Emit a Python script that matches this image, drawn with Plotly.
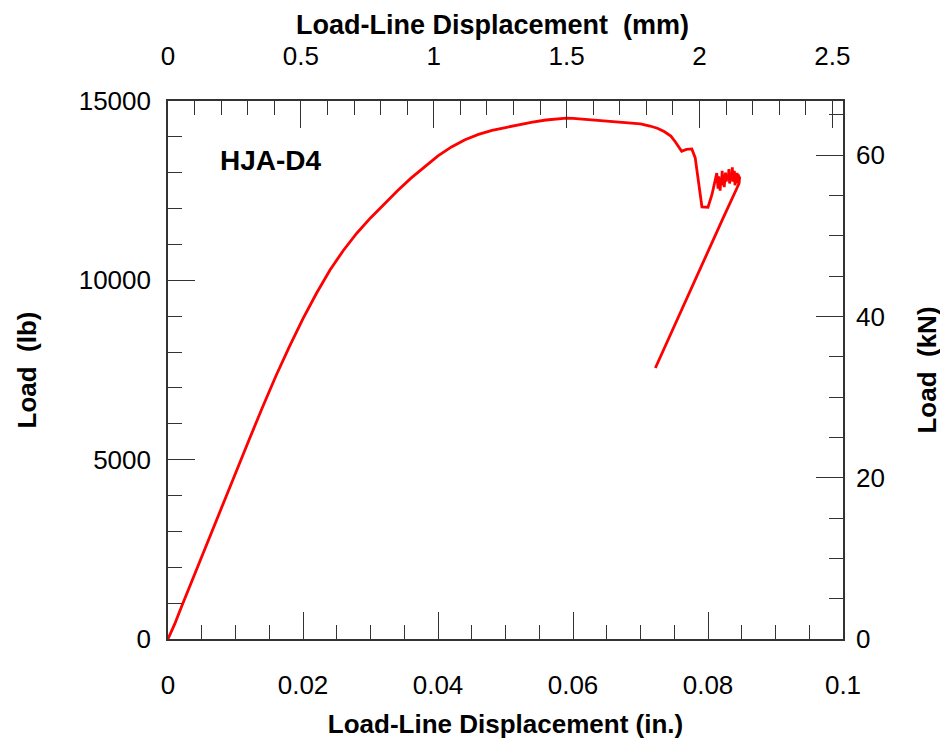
import plotly.graph_objects as go

# Load-line displacement (in.) and load (lb)
disp_in = [0.0, 0.001, 0.002, 0.004, 0.006, 0.008, 0.010, 0.012, 0.014, 0.016,
           0.018, 0.020, 0.022, 0.024, 0.026, 0.028, 0.030, 0.032, 0.034, 0.036,
           0.038, 0.040, 0.042, 0.044, 0.046, 0.048, 0.050, 0.052, 0.054, 0.056,
           0.058, 0.059, 0.060, 0.062, 0.064, 0.066, 0.068, 0.070, 0.0714, 0.0725,
           0.0735, 0.0745, 0.0752, 0.0761, 0.0768, 0.0776, 0.0781, 0.0786, 0.0791, 0.0800,
           0.0806, 0.0813, 0.0815, 0.0816, 0.0818, 0.0819, 0.0820, 0.0821, 0.0822, 0.0823,
           0.0824, 0.0826, 0.0827, 0.0828, 0.0830, 0.0831, 0.0832, 0.0834, 0.0835, 0.0836,
           0.0837, 0.0839, 0.0840, 0.0841, 0.0842, 0.0843, 0.0844, 0.0845, 0.0846, 0.0847,
           0.0846, 0.0822, 0.0722]
load_lb = [0, 420, 900, 1840, 2770, 3700, 4620, 5550, 6460, 7340,
           8160, 8930, 9640, 10290, 10840, 11320, 11740, 12130, 12500, 12850,
           13170, 13470, 13720, 13920, 14070, 14180, 14260, 14340, 14410, 14470,
           14510, 14525, 14515, 14480, 14445, 14420, 14395, 14360, 14302, 14240,
           14150, 14020, 13850, 13600, 13650, 13665, 13420, 12700, 12050, 12040,
           12400, 12990, 12560, 12900, 12500, 12850, 12650, 13050, 12700, 12950,
           12600, 13000, 12750, 12950, 12800, 13100, 12700, 13000, 12800, 13150,
           12750, 13050, 12650, 12950, 12700, 13000, 12750, 12950, 12800, 12900,
           12700, 11720, 7556]

specimen = "HJA-D4"
x_ticks_in = [0, 0.02, 0.04, 0.06, 0.08, 0.1]
x_ticks_mm = [0, 0.5, 1, 1.5, 2, 2.5]
y_ticks_lb = [0, 5000, 10000, 15000]
y_ticks_kn = [0, 20, 40, 60]

IN_TO_MM = 25.4
LB_TO_KN = 0.0044482216
X_MAX_IN = 0.1
Y_MAX_LB = 15000

FONT = "Liberation Sans, Arial, sans-serif"
AX = "#333333"
RED = "#ff0000"

fig = go.Figure()
fig.add_trace(go.Scatter(x=disp_in, y=load_lb, mode="lines",
                         line=dict(color=RED, width=2.8), showlegend=False,
                         hoverinfo="skip"))
# invisible trace on secondary axes so they are drawn
fig.add_trace(go.Scatter(x=[0], y=[0], xaxis="x2", yaxis="y2", mode="markers",
                         marker=dict(opacity=0), showlegend=False, hoverinfo="skip"))

def axis(rng, ticks, minor_dtick, **kw):
    d = dict(range=rng, tickmode="array", tickvals=ticks,
             ticktext=[f"{t:g}" for t in ticks],
             ticks="inside", ticklen=27, tickwidth=1.3, tickcolor=AX,
             minor=dict(dtick=minor_dtick, ticks="inside", ticklen=14,
                        tickwidth=1.3, tickcolor=AX, showgrid=False),
             showline=True, linecolor=AX, linewidth=1.6,
             showgrid=False, zeroline=False, automargin=False,
             tickfont=dict(family=FONT, size=26, color="black"))
    d.update(kw)
    return d

# the page body adds an 8 px offset, so the figure is 8 px smaller and margins shifted
fig.update_layout(
    width=940, height=739,
    margin=dict(l=160, r=105, t=93, b=108),
    paper_bgcolor="white", plot_bgcolor="white",
    xaxis=axis([0, X_MAX_IN], x_ticks_in, 0.005,
               title=dict(text="<b>Load-Line Displacement (in.)</b>",
                          font=dict(family=FONT, size=26, color="black"), standoff=16),
               ticklabelstandoff=22),
    xaxis2=axis([0, X_MAX_IN * IN_TO_MM], x_ticks_mm, 0.1, overlaying="x", side="top",
                ticklabelstandoff=24),
    yaxis=axis([0, Y_MAX_LB], y_ticks_lb, 1000,
               title=dict(text="<b>Load  (lb)</b>",
                          font=dict(family=FONT, size=26, color="black"), standoff=35),
               ticklabelstandoff=10),
    yaxis2=axis([0, Y_MAX_LB * LB_TO_KN], y_ticks_kn, 5, overlaying="y", side="right",
                title=dict(text="<b>Load  (kN)</b>",
                           font=dict(family=FONT, size=26, color="black"), standoff=34),
                ticklabelstandoff=6),
    annotations=[
        dict(x=0.0074, y=13355, xref="x", yref="y", text=f"<b>{specimen}</b>",
             showarrow=False, xanchor="left", yanchor="middle",
             font=dict(family=FONT, size=28, color="black")),
        dict(x=0.48, y=1.141, xref="paper", yref="paper",
             text="<b>Load-Line Displacement  (mm)</b>",
             showarrow=False, xanchor="center", yanchor="middle",
             font=dict(family=FONT, size=27, color="black")),
    ],
)

fig.write_html("out.html")
